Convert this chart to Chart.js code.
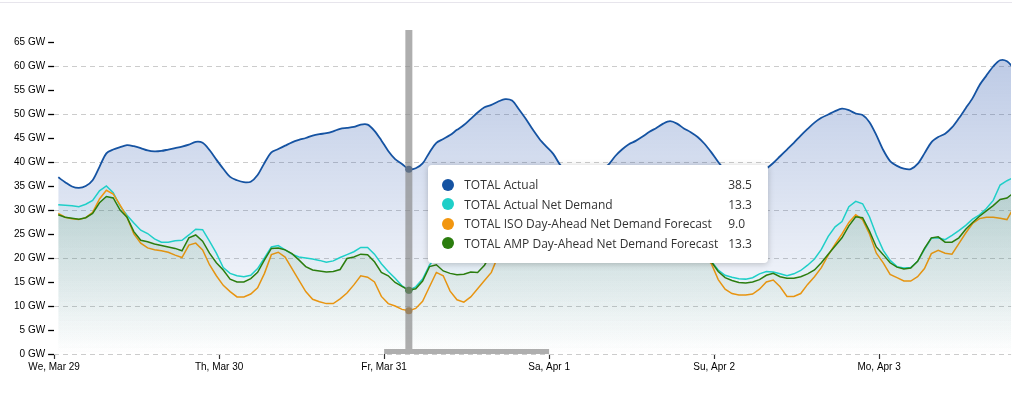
<!DOCTYPE html>
<html><head><meta charset="utf-8">
<script src="https://cdn.jsdelivr.net/npm/chart.js@4.4.1/dist/chart.umd.min.js"></script>
<style>
html,body{margin:0;padding:0;background:#fff;width:1012px;height:399px;overflow:hidden;}
#topline{position:absolute;left:0;top:2px;width:1012px;height:1px;background:#e7e5ec;z-index:2;}
#wrap{position:absolute;left:0;top:0;width:1012px;height:399px;}
#tt{position:absolute;background:#fff;border-radius:4px;box-shadow:0 1px 6px rgba(0,0,0,0.22);font-family:'Open Sans',sans-serif;font-size:12px;color:#333;padding:10px 16px 10px 14px;opacity:0;pointer-events:none;}
#tt table{border-collapse:collapse;table-layout:fixed;}
#tt td{padding:0;height:19.5px;line-height:19.5px;white-space:nowrap;}
#tt .dot{display:inline-block;width:12px;height:12px;border-radius:50%;vertical-align:middle;margin-top:-2px;}
</style>
</head><body>
<div id="topline"></div>
<div id="wrap"><canvas id="c" width="1012" height="399"></canvas></div>
<div id="tt"></div>
<script>
// ---- data (hourly, starting We, Mar 29) ----
const dayLabels = ['We, Mar 29', 'Th, Mar 30', 'Fr, Mar 31', 'Sa, Apr 1', 'Su, Apr 2', 'Mo, Apr 3'];
const seriesNames = ['TOTAL Actual', 'TOTAL Actual Net Demand', 'TOTAL ISO Day-Ahead Net Demand Forecast', 'TOTAL AMP Day-Ahead Net Demand Forecast'];
const hourOffset = 0.6;
const hoverIndex = 51;

const totalActual = [
 36.8,35.8,34.9,34.6,35.0,36.2,39.0,41.8,42.6,43.1,43.5,43.3,42.9,42.4,42.2,42.3,42.6,42.9,43.2,43.6,44.2,44.0,42.5,40.5,
 38.6,36.9,36.2,35.8,35.9,37.3,39.8,42.0,42.7,43.4,44.1,44.6,45.0,45.5,45.8,46.0,46.4,46.9,47.1,47.3,47.8,47.8,46.5,44.5,
 42.3,40.6,39.6,38.5,38.7,39.7,42.0,44.0,44.8,45.6,46.7,47.7,49.0,50.3,51.4,51.9,52.6,53.1,52.8,51.0,49.0,46.8,44.8,43.2,
 41.7,39.4,37.8,36.9,36.5,36.6,37.3,38.5,39.4,41.2,42.6,43.7,44.4,45.3,46.3,47.1,48.0,48.5,48.0,47.0,46.2,45.2,43.8,42.0,
 40.0,38.3,37.2,36.6,36.4,36.7,37.5,38.6,39.8,41.2,42.6,44.0,45.5,46.9,48.2,49.2,49.9,50.6,51.1,50.8,50.1,49.8,48.3,45.6,
 42.5,40.2,39.2,38.6,38.5,39.6,41.8,44.1,45.2,45.9,47.2,49.1,51.2,53.3,56.0,58.0,59.9,61.2,61.0,59.5
];
const actualNetDemand = [
 31.1,31.0,30.9,30.7,31.2,32.0,34.0,35.0,33.6,30.8,28.9,27.3,25.8,25.1,24.0,23.3,23.3,23.6,23.7,24.8,26.0,25.9,23.5,21.0,
 18.0,16.8,16.3,16.1,16.4,17.8,20.0,22.3,22.6,21.7,20.8,20.2,20.0,19.8,19.5,19.1,19.4,20.1,20.7,21.3,22.2,22.2,20.8,18.8,
 17.2,15.8,14.2,13.3,14.0,15.6,18.5,20.5,21.5,22.0,22.5,23.0,24.0,25.5,27.0,28.5,30.0,31.0,30.5,29.0,27.0,25.0,23.5,22.5,
 22.0,21.5,21.2,21.0,21.2,22.0,23.5,25.5,27.0,27.5,26.5,25.5,25.0,24.5,24.5,25.0,26.0,27.0,26.5,25.0,23.0,21.5,21.0,19.3,
 17.5,16.4,16.0,15.7,15.6,15.9,16.7,17.2,17.1,16.7,16.3,16.7,17.4,18.5,19.8,21.8,24.5,26.5,27.6,30.7,31.8,31.3,28.6,24.8,
 21.6,19.5,18.2,17.9,18.0,19.3,21.8,24.1,24.2,23.8,24.7,25.7,26.8,28.1,29.0,30.3,32.0,35.2,36.1,36.8
];
const isoForecast = [
 29.3,28.5,28.2,28.0,28.4,29.5,32.3,34.1,33.3,31.0,28.5,25.0,23.1,22.1,21.7,21.5,21.2,20.6,20.1,22.7,23.1,21.7,18.6,16.3,
 14.3,13.0,11.9,11.9,12.5,13.8,16.8,20.7,21.2,20.2,17.8,15.4,13.0,11.4,10.9,10.5,10.5,11.5,12.7,14.4,16.3,16.0,15.0,12.0,
 10.5,10.0,9.3,9.0,9.5,11.0,14.0,17.0,16.3,13.1,11.3,10.8,11.9,13.6,15.3,17.0,20.5,23.0,25.0,24.5,23.0,21.8,21.2,21.0,
 20.8,20.6,20.5,20.6,20.8,21.2,22.0,23.5,25.0,25.5,24.5,23.0,22.0,21.5,21.5,22.0,23.0,24.0,23.5,22.0,21.0,20.5,20.3,18.8,
 15.5,13.5,12.6,12.3,12.3,12.5,13.5,15.0,15.4,14.0,12.0,12.0,12.6,14.5,16.1,18.0,20.6,22.9,25.0,27.4,29.0,28.0,25.0,21.0,
 19.0,16.6,15.9,15.2,15.2,16.1,17.8,20.9,21.6,21.0,20.8,23.0,25.2,27.2,28.2,28.5,28.5,28.3,28.0,30.5
];
const ampForecast = [
 29.0,28.5,28.3,28.1,28.4,29.3,31.5,32.8,32.5,30.0,28.5,25.5,23.7,23.4,22.9,22.6,22.3,22.0,21.5,24.2,24.8,23.5,21.0,19.0,
 17.5,15.6,15.0,15.0,15.7,17.0,19.6,22.0,22.1,21.7,20.9,19.6,18.2,17.5,17.3,17.1,17.2,17.6,19.9,20.2,20.8,20.7,19.2,17.0,
 16.3,14.9,14.1,13.3,13.6,15.2,18.2,18.6,17.3,16.8,16.5,16.6,17.1,17.0,18.5,21.0,23.5,26.0,26.5,25.5,24.0,22.5,21.5,21.0,
 20.5,20.2,20.0,20.0,20.2,20.8,22.0,24.0,25.5,26.0,25.0,24.0,23.5,23.0,23.0,23.5,24.5,25.5,25.0,23.5,22.0,20.8,20.3,19.2,
 17.2,15.9,15.3,14.9,14.8,15.0,15.5,16.4,16.8,16.1,15.8,15.8,16.1,16.7,17.5,19.0,20.8,22.5,24.2,26.7,28.6,28.4,25.6,22.3,
 20.7,19.0,18.1,17.7,17.9,19.3,22.0,24.2,24.4,23.3,23.3,24.2,26.0,27.4,28.7,29.8,30.9,32.2,32.5,33.6
];

const toPoints = arr => arr.map((v, i) => ({x: i + hourOffset, y: v}));

function vGrad(rgb, a0, a1) {
  return (ctx) => {
    const ch = ctx.chart; const area = ch.chartArea;
    if (!area) return 'rgba(' + rgb + ',' + a0 + ')';
    const g = ch.ctx.createLinearGradient(0, area.top, 0, area.bottom);
    g.addColorStop(0, 'rgba(' + rgb + ',' + a0 + ')');
    g.addColorStop(1, 'rgba(' + rgb + ',' + a1 + ')');
    return g;
  };
}

const crosshair = {
  id: 'crosshair',
  afterDatasetsDraw(chart) {
    const {ctx, chartArea, scales} = chart;
    const hx = hoverIndex + hourOffset;
    const x = scales.x.getPixelForValue(hx);
    const day = Math.floor(hx / 24);
    const x0 = scales.x.getPixelForValue(day * 24);
    const x1 = scales.x.getPixelForValue((day + 1) * 24);
    ctx.save();
    ctx.fillStyle = 'rgba(136,136,136,0.68)';
    ctx.beginPath();
    ctx.rect(x - 3.5, chartArea.top, 7, chartArea.bottom - chartArea.top - 5);
    ctx.rect(x0, chartArea.bottom - 5, x1 - x0, 5);
    ctx.fill();
    ctx.restore();
  }
};

function externalTooltip(context) {
  const {chart, tooltip} = context;
  const el = document.getElementById('tt');
  if (tooltip.opacity === 0 || !tooltip.dataPoints || !tooltip.dataPoints.length) { el.style.opacity = 0; return; }
  let html = '<table><colgroup><col style="width:22px"><col style="width:264px"><col style="width:24px"></colgroup>';
  tooltip.dataPoints.forEach(p => {
    html += '<tr><td><span class="dot" style="background:' + p.dataset.borderColor + '"></span></td><td>' +
      p.dataset.label + '</td><td>' + p.parsed.y.toFixed(1) + '</td></tr>';
  });
  html += '</table>';
  el.innerHTML = html;
  const p0 = tooltip.dataPoints[0].element;
  el.style.left = (p0.x + 19) + 'px';
  el.style.top = (p0.y - 4) + 'px';
  el.style.opacity = 1;
}

const axisFont = {family: 'Arial, "Liberation Sans", Helvetica, sans-serif', size: 10};

const chart = new Chart(document.getElementById('c'), {
  type: 'line',
  data: {
    datasets: [
      {label: seriesNames[0], data: toPoints(totalActual), borderColor: '#1553a2', borderWidth: 1.8,
       backgroundColor: vGrad('35,80,170', 0.33, 0.0), fill: 'origin', tension: 0.3,
       pointRadius: 0, pointHoverRadius: 3.5, pointHoverBorderWidth: 0, pointHoverBackgroundColor: '#0a3f86', order: 4},
      {label: seriesNames[1], data: toPoints(actualNetDemand), borderColor: '#1fcfc8', borderWidth: 1.5,
       backgroundColor: vGrad('31,190,200', 0.14, 0.0), fill: 'origin', tension: 0,
       pointRadius: 0, pointHoverRadius: 3.5, pointHoverBorderWidth: 0, pointHoverBackgroundColor: '#1aa8a4', order: 3},
      {label: seriesNames[2], data: toPoints(isoForecast), borderColor: '#f2960f', borderWidth: 1.5,
       backgroundColor: 'rgba(0,0,0,0)', fill: false, tension: 0,
       pointRadius: 0, pointHoverRadius: 3.5, pointHoverBorderWidth: 0, pointHoverBackgroundColor: '#c77a10', order: 2},
      {label: seriesNames[3], data: toPoints(ampForecast), borderColor: '#2b7d0e', borderWidth: 1.5,
       backgroundColor: vGrad('60,120,40', 0.3, 0.0), fill: 'origin', tension: 0,
       pointRadius: 0, pointHoverRadius: 3.5, pointHoverBorderWidth: 0, pointHoverBackgroundColor: '#1f6a0a', order: 1}
    ]
  },
  options: {
    responsive: false,
    devicePixelRatio: 1,
    animation: false,
    events: [],
    layout: {padding: {left: 11, right: 0, top: 30, bottom: 24}},
    interaction: {mode: 'index', intersect: false},
    plugins: {
      legend: {display: false},
      tooltip: {enabled: false, mode: 'index', intersect: false, external: externalTooltip}
    },
    scales: {
      x: {
        type: 'linear', min: 0, max: 139.2,
        afterBuildTicks: s => { s.ticks = s.ticks.filter(t => t.value % 24 === 0); },
        ticks: {stepSize: 24, autoSkip: false, maxRotation: 0, padding: 2, color: '#000', font: axisFont,
                callback: v => dayLabels[v / 24]},
        grid: {drawOnChartArea: false, drawTicks: true, tickLength: 5, tickColor: '#333', tickWidth: 1.2},
        border: {display: false}
      },
      y: {
        min: 0, max: 67.5,
        afterBuildTicks: s => { s.ticks = s.ticks.filter(t => t.value % 5 === 0); },
        ticks: {stepSize: 5, padding: 3, color: '#000', font: axisFont, callback: v => v + ' GW'},
        grid: {
          color: c => (c.tick && c.tick.value % 10 === 0) ? '#cccccc' : 'rgba(0,0,0,0)',
          tickColor: '#000', tickLength: 6, tickWidth: 1.3, lineWidth: 1
        },
        border: {display: false, dash: [5, 4]}
      }
    }
  },
  plugins: [crosshair]
});

const active = chart.data.datasets.map((d, i) => ({datasetIndex: i, index: hoverIndex}));
chart.setActiveElements(active);
const meta0 = chart.getDatasetMeta(0).data[hoverIndex];
chart.tooltip.setActiveElements(active, {x: meta0.x, y: meta0.y});
chart.update();
</script>
</body></html>
